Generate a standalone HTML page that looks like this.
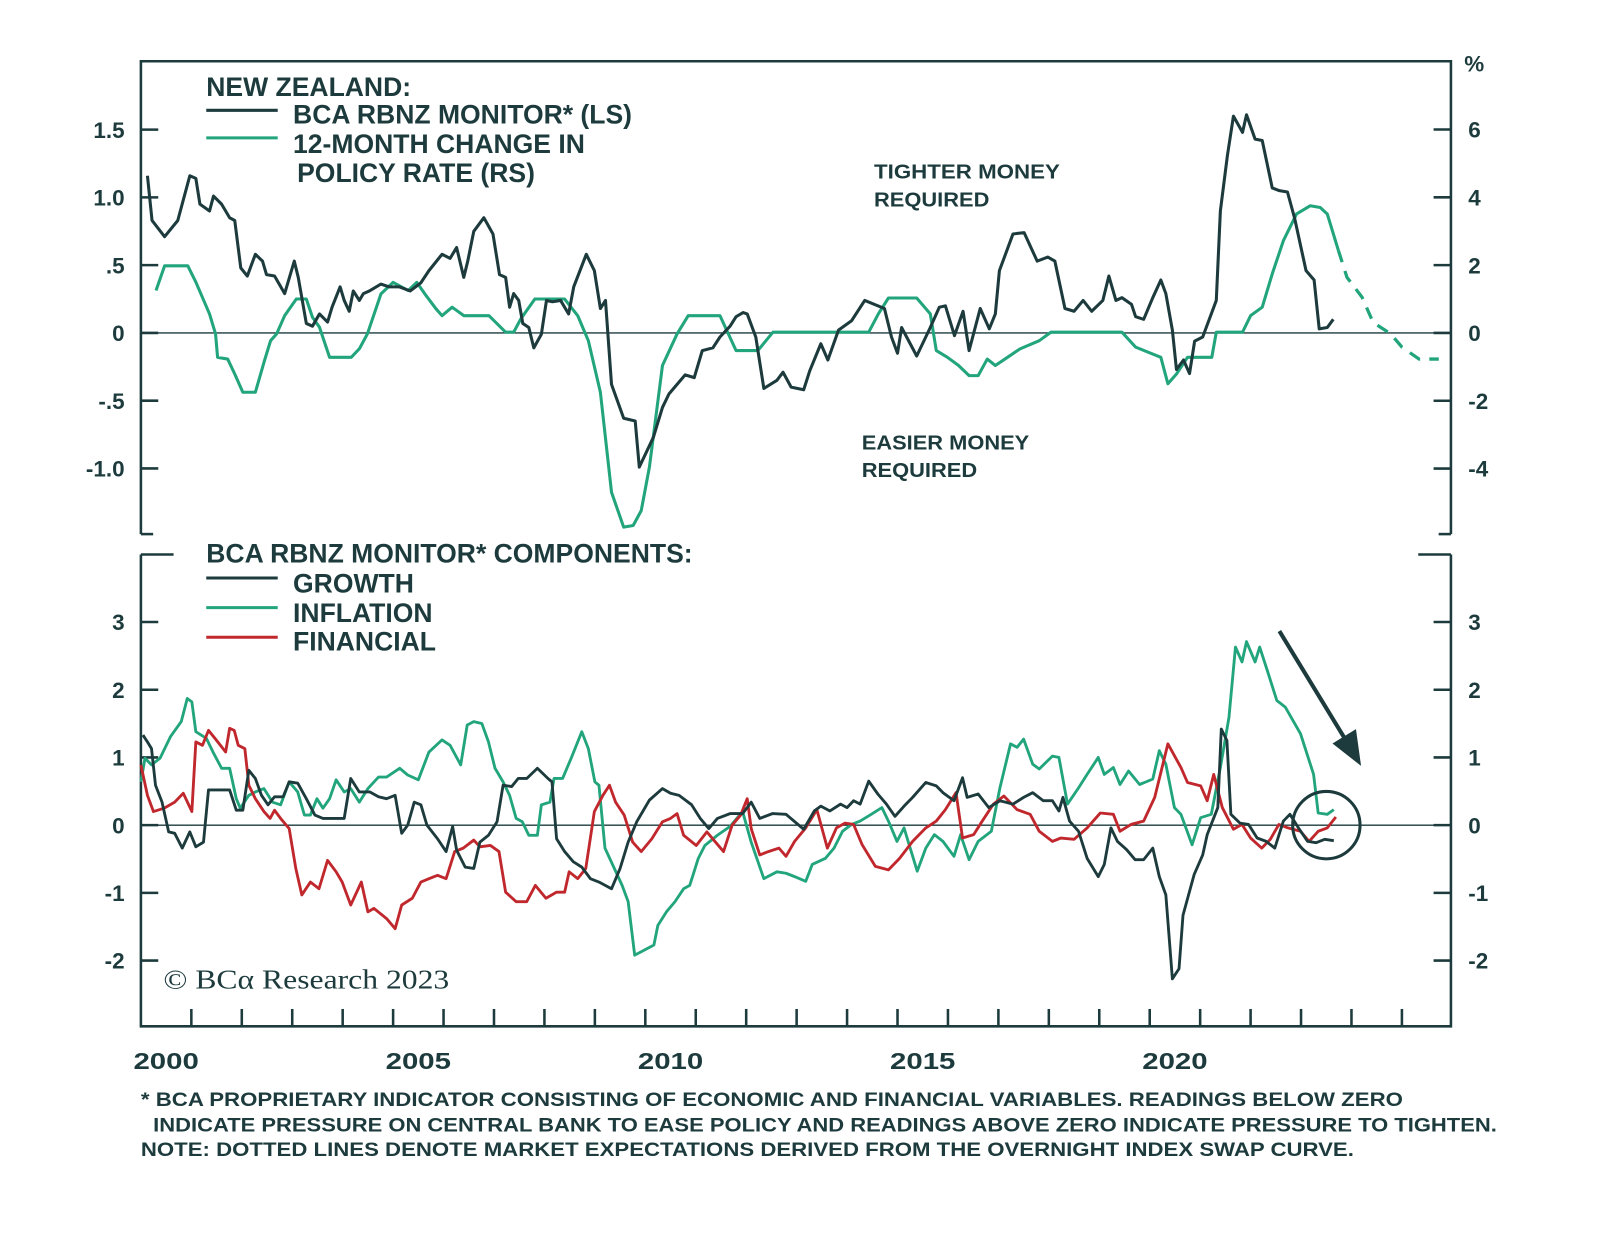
<!DOCTYPE html>
<html><head><meta charset="utf-8">
<style>
html,body{margin:0;padding:0;background:#fff;}
svg{display:block;}
text{font-family:"Liberation Sans",sans-serif;fill:#1d3b3d;}
.b{font-weight:bold;}
</style></head>
<body>
<svg id="chart" width="1600" height="1251" viewBox="0 0 1567 1225" preserveAspectRatio="none" xmlns="http://www.w3.org/2000/svg">
<g id="frame" stroke="#1d3b3d" stroke-width="2.5" fill="none">
 <polyline points="138,523 138,60 1421,60 1421,523"/>
 <line x1="138" y1="523" x2="150" y2="523"/><line x1="1409" y1="523" x2="1421" y2="523"/>
 <polyline points="138,543 138,1005 1421,1005 1421,543"/>
 <line x1="138" y1="543" x2="170" y2="543"/><line x1="1389" y1="543" x2="1421" y2="543"/>
 <line x1="138" y1="326" x2="1421" y2="326" stroke-width="1.3"/>
 <line x1="138" y1="808" x2="1421" y2="808" stroke-width="1.3"/>
</g>
<g id="ticks"></g>
<g id="series"></g>
<g>
 <text class="b" x="202" y="94" font-size="26">NEW ZEALAND:</text>
 <line x1="202" y1="108" x2="272" y2="108" stroke="#1d3b3d" stroke-width="3"/>
 <text class="b" x="287" y="121" font-size="26">BCA RBNZ MONITOR* (LS)</text>
 <line x1="202" y1="135" x2="272" y2="135" stroke="#22a57c" stroke-width="3"/>
 <text class="b" x="287" y="150" font-size="26">12-MONTH CHANGE IN</text>
 <text class="b" x="291" y="178" font-size="26">POLICY RATE (RS)</text>
</g>
<g>
 <text class="b" x="202" y="551" font-size="26">BCA RBNZ MONITOR* COMPONENTS:</text>
 <line x1="202" y1="566" x2="272" y2="566" stroke="#1d3b3d" stroke-width="3"/>
 <text class="b" x="287" y="580" font-size="26">GROWTH</text>
 <line x1="202" y1="595" x2="272" y2="595" stroke="#22a57c" stroke-width="3"/>
 <text class="b" x="287" y="609" font-size="26">INFLATION</text>
 <line x1="202" y1="624" x2="272" y2="624" stroke="#c0282d" stroke-width="3"/>
 <text class="b" x="287" y="637" font-size="26">FINANCIAL</text>
</g>
<text class="b" x="856" y="175" font-size="20" textLength="182" lengthAdjust="spacingAndGlyphs">TIGHTER MONEY</text>
<text class="b" x="856" y="202" font-size="20" textLength="113" lengthAdjust="spacingAndGlyphs">REQUIRED</text>
<text class="b" x="844" y="440" font-size="20" textLength="164" lengthAdjust="spacingAndGlyphs">EASIER MONEY</text>
<text class="b" x="844" y="467" font-size="20" textLength="113" lengthAdjust="spacingAndGlyphs">REQUIRED</text>
<text class="b" x="1434" y="70" font-size="22">%</text>
<circle cx="1299" cy="808" r="33" fill="none" stroke="#1d3b3d" stroke-width="3"/>
<g>
 <line x1="1253" y1="618" x2="1320" y2="728" stroke="#1d3b3d" stroke-width="4"/>
 <polygon points="1333,750 1305,728 1328,714" fill="#1d3b3d"/>
</g>
<text x="160" y="968" font-size="27" textLength="280" lengthAdjust="spacingAndGlyphs" style="font-family:'Liberation Serif',serif">© BCα Research 2023</text>
<g>
 <text class="b" x="138" y="1083" font-size="19" textLength="1236" lengthAdjust="spacingAndGlyphs">*  BCA PROPRIETARY INDICATOR CONSISTING OF ECONOMIC AND FINANCIAL VARIABLES. READINGS BELOW ZERO</text>
 <text class="b" x="150" y="1108" font-size="19" textLength="1316" lengthAdjust="spacingAndGlyphs">INDICATE PRESSURE ON CENTRAL BANK TO EASE POLICY AND READINGS ABOVE ZERO INDICATE PRESSURE TO TIGHTEN.</text>
 <text class="b" x="138" y="1132" font-size="19" textLength="1188" lengthAdjust="spacingAndGlyphs">NOTE: DOTTED LINES DENOTE MARKET EXPECTATIONS DERIVED FROM THE OVERNIGHT INDEX SWAP CURVE.</text>
</g>
</svg>
<script>
// x: years since Jan 2000
const xTickLabels = ["2000","2005","2010","2015","2020"];
const leftTopTicks = [1.5,1.0,0.5,0,-0.5,-1.0];
const leftTopTickLabels = ["1.5","1.0",".5","0","-.5","-1.0"];
const rightTopTicks = [6,4,2,0,-2,-4];
const bottomTicks = [3,2,1,0,-1,-2];

const monitorT = [0.13,0.22,0.47,0.73,0.97,1.09,1.17,1.36,1.44,1.60,1.76,1.86,1.98,2.11,2.27,2.41,2.49,2.65,2.85,3.04,3.12,3.28,3.40,3.54,3.70,3.79,3.95,4.03,4.13,4.21,4.33,4.41,4.53,4.76,4.92,5.12,5.34,5.55,5.71,5.97,6.13,6.26,6.40,6.48,6.60,6.80,6.98,7.11,7.23,7.31,7.39,7.49,7.57,7.69,7.79,7.94,8.04,8.16,8.32,8.48,8.58,8.83,8.99,9.11,9.21,9.33,9.57,9.80,9.88,10.16,10.34,10.47,10.79,10.97,11.13,11.34,11.48,11.68,11.80,11.94,12.02,12.19,12.35,12.61,12.73,12.89,13.14,13.26,13.48,13.62,13.83,14.09,14.35,14.74,14.88,15.00,15.08,15.38,15.65,15.83,15.95,16.13,16.30,16.42,16.64,16.82,16.94,17.02,17.29,17.51,17.77,17.98,18.12,18.32,18.50,18.68,18.85,19.07,19.19,19.33,19.45,19.64,19.72,19.88,20.06,20.22,20.32,20.45,20.53,20.67,20.79,20.89,21.05,21.32,21.40,21.54,21.66,21.84,21.92,22.09,22.23,22.43,22.57,22.73,22.87,23.10,23.26,23.36,23.52,23.64];
const monitorV = [1.16,0.83,0.71,0.83,1.16,1.14,0.95,0.90,1.01,0.95,0.85,0.83,0.48,0.42,0.58,0.53,0.43,0.42,0.29,0.53,0.41,0.07,0.05,0.14,0.08,0.19,0.34,0.24,0.16,0.31,0.24,0.29,0.31,0.36,0.34,0.34,0.31,0.37,0.46,0.58,0.55,0.63,0.41,0.53,0.75,0.85,0.73,0.43,0.41,0.19,0.29,0.24,0.07,0.04,-0.11,-0.01,0.24,0.23,0.24,0.14,0.34,0.58,0.46,0.18,0.24,-0.38,-0.63,-0.65,-0.99,-0.77,-0.55,-0.45,-0.31,-0.33,-0.13,-0.11,-0.03,0.05,0.12,0.15,0.14,-0.03,-0.41,-0.35,-0.29,-0.40,-0.42,-0.28,-0.08,-0.20,0.02,0.09,0.24,0.18,-0.03,-0.15,0.04,-0.17,0.04,0.19,0.20,-0.02,0.16,-0.13,0.18,0.03,0.14,0.46,0.73,0.74,0.53,0.56,0.53,0.18,0.16,0.24,0.16,0.24,0.42,0.24,0.26,0.21,0.12,0.10,0.26,0.39,0.29,0.02,-0.27,-0.20,-0.30,-0.06,-0.03,0.24,0.90,1.31,1.60,1.48,1.61,1.43,1.42,1.07,1.05,1.04,0.85,0.46,0.39,0.03,0.04,0.10];

const policyT = [0.30,0.47,0.93,1.09,1.36,1.48,1.52,1.72,1.86,2.02,2.27,2.45,2.57,2.69,2.85,3.08,3.28,3.40,3.54,3.74,4.17,4.33,4.49,4.76,5.00,5.30,5.47,5.63,5.85,5.97,6.17,6.40,6.90,7.23,7.39,7.53,7.81,8.40,8.66,8.87,9.11,9.33,9.57,9.76,9.92,10.08,10.34,10.63,10.85,11.48,11.80,12.23,12.53,14.43,14.62,14.82,15.38,15.65,15.77,15.99,16.21,16.42,16.60,16.78,16.94,17.13,17.43,17.81,18.04,19.45,19.72,20.22,20.36,20.53,20.75,21.23,21.32,21.84,22.00,22.23,22.43,22.65,22.91,23.18,23.38,23.52,23.74];
const policyPct = [1.25,1.98,1.98,1.5,0.56,-0.03,-0.72,-0.77,-1.21,-1.75,-1.75,-0.82,-0.23,-0.03,0.51,1.0,1.0,0.46,0.17,-0.72,-0.72,-0.47,-0.03,1.15,1.49,1.25,1.49,1.15,0.71,0.51,0.76,0.51,0.51,0.02,0.02,0.41,1.0,1.0,0.51,-0.23,-1.75,-4.7,-5.73,-5.68,-5.24,-3.96,-0.96,-0.03,0.51,0.51,-0.52,-0.52,0.02,0.02,0.56,1.03,1.03,0.56,-0.52,-0.72,-0.96,-1.26,-1.26,-0.77,-0.96,-0.77,-0.47,-0.23,0.02,0.02,-0.42,-0.72,-1.5,-1.21,-0.72,-0.72,0.02,0.02,0.51,0.76,1.74,2.72,3.51,3.75,3.70,3.51,2.43];
const policyExpT = [23.74,23.91,24.21,24.43,24.78,25.00,25.34,25.73];
const policyExpPct = [2.43,1.64,1.05,0.31,-0.03,-0.42,-0.77,-0.77];

const growthT = [0.04,0.13,0.21,0.29,0.42,0.55,0.67,0.82,0.97,1.09,1.24,1.34,1.51,1.76,1.89,2.02,2.14,2.27,2.39,2.52,2.65,2.82,2.94,3.11,3.28,3.45,3.61,3.87,4.03,4.16,4.33,4.54,4.71,4.87,5.04,5.17,5.29,5.42,5.55,5.67,5.88,6.05,6.18,6.26,6.43,6.60,6.72,6.89,7.06,7.18,7.35,7.48,7.65,7.86,8.07,8.15,8.24,8.40,8.57,8.74,8.91,9.08,9.33,9.50,9.66,9.83,10.08,10.34,10.50,10.67,10.92,11.09,11.26,11.43,11.68,11.93,12.10,12.27,12.52,12.79,13.14,13.35,13.48,13.66,13.87,14.00,14.13,14.26,14.43,14.61,14.78,14.95,15.13,15.30,15.56,15.77,15.90,16.12,16.29,16.38,16.60,16.81,17.03,17.29,17.50,17.68,17.89,18.07,18.20,18.28,18.41,18.59,18.76,18.98,19.10,19.23,19.36,19.54,19.71,19.88,20.06,20.19,20.32,20.45,20.58,20.66,20.88,21.05,21.14,21.35,21.42,21.53,21.61,21.79,21.96,22.13,22.31,22.48,22.65,22.78,22.95,23.13,23.30,23.47,23.65];
const growthV = [1.33,1.23,1.13,0.59,0.34,-0.10,-0.12,-0.34,-0.10,-0.32,-0.25,0.52,0.52,0.52,0.22,0.22,0.81,0.69,0.44,0.30,0.42,0.42,0.64,0.62,0.39,0.15,0.10,0.10,0.10,0.69,0.49,0.49,0.42,0.39,0.44,-0.12,0,0.34,0.30,0,-0.20,-0.39,-0.02,-0.37,-0.62,-0.64,-0.25,-0.15,0.05,0.59,0.57,0.69,0.69,0.84,0.69,0.64,-0.20,-0.39,-0.54,-0.62,-0.79,-0.84,-0.94,-0.64,-0.25,0.05,0.37,0.54,0.47,0.44,0.30,0.10,-0.05,0.10,0.17,0.17,0.34,0.10,0.17,0.16,-0.06,0.21,0.28,0.21,0.31,0.26,0.36,0.31,0.65,0.46,0.31,0.13,0.28,0.41,0.63,0.58,0.48,0.36,0.70,0.41,0.46,0.26,0.36,0.31,0.41,0.48,0.36,0.36,0.21,0.41,0.06,-0.09,-0.49,-0.76,-0.58,-0.04,-0.24,-0.36,-0.51,-0.51,-0.34,-0.76,-1.03,-2.27,-2.12,-1.33,-0.73,-0.44,-0.14,0.26,1.42,1.25,0.16,0.03,0.01,-0.19,-0.24,-0.34,0.06,0.16,-0.04,-0.24,-0.26,-0.21,-0.23];

const inflationT = [0,0.08,0.21,0.38,0.59,0.80,0.92,1.01,1.09,1.30,1.43,1.60,1.76,1.89,1.97,2.14,2.27,2.44,2.61,2.77,2.94,3.11,3.24,3.36,3.49,3.61,3.74,3.87,4.03,4.16,4.33,4.50,4.71,4.87,5.13,5.29,5.50,5.71,5.97,6.13,6.34,6.47,6.60,6.76,6.89,7.02,7.18,7.31,7.44,7.56,7.69,7.86,7.94,8.11,8.19,8.36,8.53,8.74,8.87,9.00,9.08,9.20,9.54,9.66,9.79,9.92,10.17,10.25,10.42,10.59,10.76,10.88,11.05,11.18,11.43,11.68,11.93,12.10,12.35,12.61,12.79,12.96,13.18,13.31,13.57,13.74,13.91,14.09,14.26,14.48,14.69,14.82,14.99,15.13,15.39,15.56,15.73,15.90,16.12,16.25,16.42,16.60,16.86,17.03,17.24,17.37,17.50,17.68,17.81,18.07,18.20,18.37,18.59,18.76,18.98,19.10,19.28,19.41,19.58,19.80,20.06,20.19,20.32,20.49,20.62,20.84,21.01,21.22,21.40,21.57,21.70,21.83,21.92,22.09,22.18,22.35,22.52,22.69,22.99,23.25,23.34,23.52,23.65];
const inflationV = [0.64,0.99,0.89,0.99,1.31,1.53,1.87,1.82,1.38,1.28,1.08,0.84,0.84,0.39,0.25,0.44,0.49,0.54,0.34,0.30,0.64,0.49,0.15,0.15,0.39,0.25,0.39,0.67,0.49,0.54,0.34,0.54,0.71,0.71,0.84,0.74,0.67,1.08,1.26,1.18,0.89,1.48,1.53,1.50,1.23,0.84,0.64,0.44,0.10,0.05,-0.15,-0.15,0.30,0.34,0.69,0.69,0.99,1.38,1.13,0.64,0.59,-0.34,-0.89,-1.13,-1.92,-1.87,-1.77,-1.48,-1.28,-1.13,-0.94,-0.89,-0.49,-0.30,-0.15,-0.02,0.20,-0.25,-0.79,-0.69,-0.71,-0.76,-0.83,-0.58,-0.49,-0.34,-0.09,0.01,0.06,0.16,0.26,0.06,-0.24,-0.04,-0.68,-0.34,-0.14,-0.24,-0.46,-0.14,-0.51,-0.24,-0.09,0.55,1.20,1.15,1.27,0.90,0.83,1.02,1.00,0.31,0.55,0.75,1.00,0.75,0.85,0.60,0.80,0.60,0.68,1.10,0.90,0.26,0.16,-0.29,0.11,0.16,0.85,1.59,2.63,2.41,2.71,2.41,2.63,2.24,1.84,1.74,1.35,0.75,0.18,0.16,0.23];

const financialT = [0,0.13,0.25,0.46,0.67,0.84,1.01,1.09,1.22,1.34,1.47,1.68,1.76,1.85,1.93,2.06,2.14,2.27,2.44,2.56,2.65,2.77,2.94,3.07,3.19,3.36,3.53,3.70,3.87,3.99,4.16,4.37,4.50,4.62,4.87,5.04,5.17,5.38,5.55,5.71,5.88,6.05,6.22,6.39,6.60,6.72,6.93,7.10,7.23,7.44,7.65,7.82,8.03,8.24,8.40,8.49,8.66,8.82,8.99,9.16,9.29,9.41,9.58,9.75,9.92,10.13,10.34,10.50,10.63,10.76,11.01,11.22,11.39,11.55,11.72,11.89,12.02,12.10,12.27,12.44,12.65,12.79,12.96,13.18,13.40,13.61,13.79,13.96,14.13,14.30,14.56,14.82,15.04,15.30,15.56,15.77,15.95,16.16,16.29,16.51,16.68,16.90,17.11,17.37,17.63,17.81,18.07,18.24,18.50,18.76,19.02,19.28,19.41,19.63,19.88,20.10,20.36,20.62,20.75,21.01,21.14,21.27,21.44,21.66,21.83,22.00,22.22,22.39,22.56,22.74,22.99,23.16,23.34,23.52,23.69];
const financialV = [0.89,0.44,0.20,0.25,0.34,0.47,0.20,1.23,1.18,1.40,1.28,1.08,1.43,1.40,1.18,1.13,0.59,0.39,0.20,0.10,0.22,0.10,-0.05,-0.64,-1.03,-0.84,-0.94,-0.52,-0.69,-0.84,-1.18,-0.84,-1.28,-1.23,-1.38,-1.53,-1.18,-1.08,-0.84,-0.79,-0.74,-0.79,-0.39,-0.34,-0.22,-0.32,-0.30,-0.39,-0.99,-1.13,-1.13,-0.89,-1.08,-0.99,-0.99,-0.69,-0.79,-0.64,0.20,0.44,0.59,0.34,0.15,-0.25,-0.39,-0.20,0.05,0.10,0.17,-0.15,-0.30,-0.10,-0.25,-0.39,0,0.15,0.39,-0.05,-0.44,-0.39,-0.34,-0.46,-0.24,-0.04,0.23,-0.34,-0.04,0.03,0.01,-0.29,-0.61,-0.66,-0.49,-0.24,-0.04,0.06,0.23,0.48,-0.19,-0.14,0.06,0.31,0.43,0.23,0.16,-0.09,-0.24,-0.19,-0.21,-0.04,0.18,0.16,-0.09,0.01,0.06,0.41,1.20,0.85,0.63,0.58,0.36,0.75,0.26,-0.06,0.01,-0.19,-0.34,-0.21,0.01,-0.04,-0.09,-0.24,-0.09,-0.04,0.12];

const NS = "http://www.w3.org/2000/svg";
const X0 = 138, PX_PER_YEAR = 49.4;
function xScale(t){ return X0 + t * PX_PER_YEAR; }
function yTopL(v){ return 326 - v * 132.7; }
function yTopR(p){ return 326 - p * 33.2; }
function yBot(v){ return 808 - v * 66.3; }

const seriesG = document.getElementById('series');
const ticksG = document.getElementById('ticks');

function addLine(ts, vs, yf, color, width, name, dash){
  const p = document.createElementNS(NS, 'polyline');
  p.setAttribute('points', ts.map((t,i)=>xScale(t).toFixed(1)+','+yf(vs[i]).toFixed(1)).join(' '));
  p.setAttribute('fill','none');
  p.setAttribute('stroke',color);
  p.setAttribute('stroke-width',width);
  p.setAttribute('stroke-linejoin','round');
  if(dash) p.setAttribute('stroke-dasharray',dash);
  
  
  seriesG.appendChild(p);
}
function addText(x,y,str,anchor,size,name,len){
  const t = document.createElementNS(NS,'text');
  t.setAttribute('x',x); t.setAttribute('y',y);
  t.setAttribute('text-anchor',anchor);
  t.setAttribute('font-size',size);
  t.setAttribute('class','b');
  if(len){ t.setAttribute('textLength',len); t.setAttribute('lengthAdjust','spacingAndGlyphs'); }
  t.textContent = str;
  
  
  ticksG.appendChild(t);
}
function addTick(x1,y1,x2,y2,name){
  const l = document.createElementNS(NS,'line');
  l.setAttribute('x1',x1); l.setAttribute('y1',y1); l.setAttribute('x2',x2); l.setAttribute('y2',y2);
  l.setAttribute('stroke','#1d3b3d'); l.setAttribute('stroke-width','2.5');
  
  
  ticksG.appendChild(l);
}

leftTopTicks.forEach((v,i)=>{
  addTick(138,yTopL(v),155,yTopL(v),'left-top-tick');
  addText(122,yTopL(v)+8,leftTopTickLabels[i],'end',22,'left-top-tick-label');
});
rightTopTicks.forEach(p=>{
  addTick(1404,yTopR(p),1421,yTopR(p),'right-top-tick');
  addText(1438,yTopR(p)+8,String(p),'start',22,'right-top-tick-label');
});
bottomTicks.forEach(v=>{
  addTick(138,yBot(v),155,yBot(v),'left-bottom-tick');
  addTick(1404,yBot(v),1421,yBot(v),'right-bottom-tick');
  addText(122,yBot(v)+8,String(v),'end',22,'left-bottom-tick-label');
  addText(1438,yBot(v)+8,String(v),'start',22,'right-bottom-tick-label');
});
for(let k=1;k<26;k++){
  addTick(xScale(k),988,xScale(k),1005,'x-tick');
}
xTickLabels.forEach((s,i)=>{
  addText(xScale(i*5+0.5),1047,s,'middle',23,'x-tick-label',64);
});

addLine(policyT, policyPct, yTopR, '#22a57c', 3, 'policy-rate-line');
addLine(policyExpT, policyExpPct, yTopR, '#22a57c', 3.2, 'policy-rate-expectations-line', '12,9');
addLine(monitorT, monitorV, yTopL, '#1d3b3d', 3, 'monitor-line');
addLine(inflationT, inflationV, yBot, '#22a57c', 2.8, 'inflation-line');
addLine(financialT, financialV, yBot, '#c0282d', 2.8, 'financial-line');
addLine(growthT, growthV, yBot, '#1d3b3d', 2.8, 'growth-line');
</script>
</body></html>
